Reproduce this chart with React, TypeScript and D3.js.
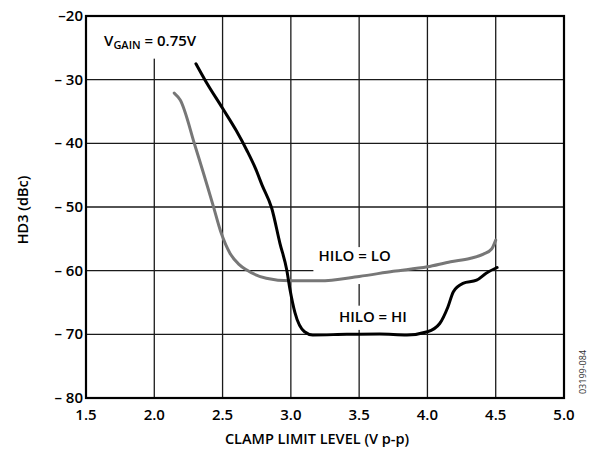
import React from "react";
import * as d3 from "d3";

const xTicks = [1.5, 2.0, 2.5, 3.0, 3.5, 4.0, 4.5, 5.0];
const xTickLabels = ["1.5", "2.0", "2.5", "3.0", "3.5", "4.0", "4.5", "5.0"];
const yTicks = [-20, -30, -40, -50, -60, -70, -80];
const yTickLabels = ["–20", "– 30", "– 40", "– 50", "– 60", "– 70", "– 80"];

const hiloHiX = [2.305, 2.37, 2.5, 2.6, 2.68, 2.74, 2.79, 2.86, 2.92, 2.97, 2.994, 3.03, 3.1, 3.16, 3.41, 3.65, 3.85, 4.0, 4.09, 4.15, 4.19, 4.26, 4.36, 4.43, 4.51];
const hiloHiY = [-27.5, -30, -34.5, -38.0, -41.2, -43.9, -46.6, -50.2, -55.7, -59.9, -63, -66.6, -69.6, -70.1, -70.0, -69.95, -70.1, -69.6, -68.3, -65.7, -63.3, -62.0, -61.5, -60.4, -59.5];

const hiloLoX = [2.146, 2.19, 2.3, 2.43, 2.49, 2.555, 2.62, 2.677, 2.82, 2.99, 3.21, 3.5, 3.75, 4.0, 4.17, 4.31, 4.41, 4.47, 4.5];
const hiloLoY = [-32.1, -33.2, -40.5, -49.7, -54.1, -57.3, -59.0, -59.9, -61.2, -61.6, -61.6, -60.9, -60.1, -59.4, -58.6, -58.1, -57.4, -56.6, -55.2];

const W = 591;
const H = 449;
const M = { left: 86, right: 564, top: 16, bottom: 398 };
const FONT = "'Open Sans', 'Liberation Sans', Arial, sans-serif";
const FW = 600;
const FS = 15;

export default function App() {
  const x = d3.scaleLinear().domain([1.5, 5.0]).range([M.left, M.right]);
  const y = d3.scaleLinear().domain([-20, -80]).range([M.top, M.bottom]);

  const line = d3
    .line<[number, number]>()
    .x((d) => x(d[0]))
    .y((d) => y(d[1]))
    .curve(d3.curveMonotoneX);

  const hiData: [number, number][] = hiloHiX.map((v, i) => [v, hiloHiY[i]]);
  const loData: [number, number][] = hiloLoX.map((v, i) => [v, hiloLoY[i]]);

  const gridColor = "#1a1a1a";

  return (
    <svg
      width={W}
      height={H}
      style={{ position: "absolute", left: 0, top: 0, background: "#fff" }}
      fontFamily={FONT}
      fontWeight={FW}
    >
      <rect x={0} y={0} width={W} height={H} fill="#fff" />
      {/* grid */}
      {xTicks.slice(1, -1).map((t) => (
        <line key={"gx" + t} x1={x(t)} x2={x(t)} y1={M.top} y2={M.bottom} stroke={gridColor} strokeWidth={1.3} />
      ))}
      {yTicks.slice(1, -1).map((t) => (
        <line key={"gy" + t} x1={M.left} x2={M.right} y1={y(t)} y2={y(t)} stroke={gridColor} strokeWidth={1.3} />
      ))}

      {/* label backgrounds */}
      <rect x={x(1.58)} y={M.top + 1} width={x(2.44) - x(1.58)} height={y(-26.7) - M.top - 1} fill="#fff" />
      <rect x={x(3.165)} y={y(-56.3)} width={x(3.79) - x(3.165)} height={y(-62.1) - y(-56.3)} fill="#fff" />
      <rect x={x(3.32)} y={y(-65.5)} width={x(3.9) - x(3.32)} height={y(-69.3) - y(-65.5)} fill="#fff" />

      {/* curves */}
      <path d={line(loData) || ""} fill="none" stroke="#777" strokeWidth={3} strokeLinecap="round" strokeLinejoin="round" />
      <path d={line(hiData) || ""} fill="none" stroke="#000" strokeWidth={3} strokeLinecap="round" strokeLinejoin="round" />

      {/* frame */}
      <rect x={M.left} y={M.top} width={M.right - M.left} height={M.bottom - M.top} fill="none" stroke="#000" strokeWidth={2.2} />

      {/* x tick labels */}
      {xTicks.map((t, i) => (
        <text key={"xt" + t} x={x(t)} y={M.bottom + 22} textAnchor="middle" fontSize={FS} fill="#000">
          {xTickLabels[i]}
        </text>
      ))}
      {/* y tick labels */}
      {yTicks.map((t, i) => (
        <text key={"yt" + t} x={M.left - 3} y={y(t) + 5} textAnchor="end" fontSize={FS} fill="#000">
          {yTickLabels[i]}
        </text>
      ))}

      {/* axis titles */}
      <text x={317} y={444} textAnchor="middle" fontSize={14.5} fill="#000">
        CLAMP LIMIT LEVEL (V p-p)
      </text>
      <text transform={`translate(28, 210) rotate(-90)`} textAnchor="middle" fontSize={14.5} fill="#000">
        HD3 (dBc)
      </text>

      {/* annotations */}
      <text x={x(1.632)} y={y(-24.7)} fontSize={FS} fill="#000">
        V<tspan fontSize={11} dy={3}>GAIN</tspan>
        <tspan dy={-3}> = 0.75V</tspan>
      </text>
      <text x={x(3.467)} y={y(-58.5)} textAnchor="middle" fontSize={FS} fill="#000">
        HILO = LO
      </text>
      <text x={x(3.601)} y={y(-68.0)} textAnchor="middle" fontSize={FS} fill="#000">
        HILO = HI
      </text>

      {/* figure id */}
      <text transform={`translate(586, 372) rotate(-90)`} textAnchor="middle" fontSize={9} fontWeight={400} fill="#333">
        03199-084
      </text>
    </svg>
  );
}
